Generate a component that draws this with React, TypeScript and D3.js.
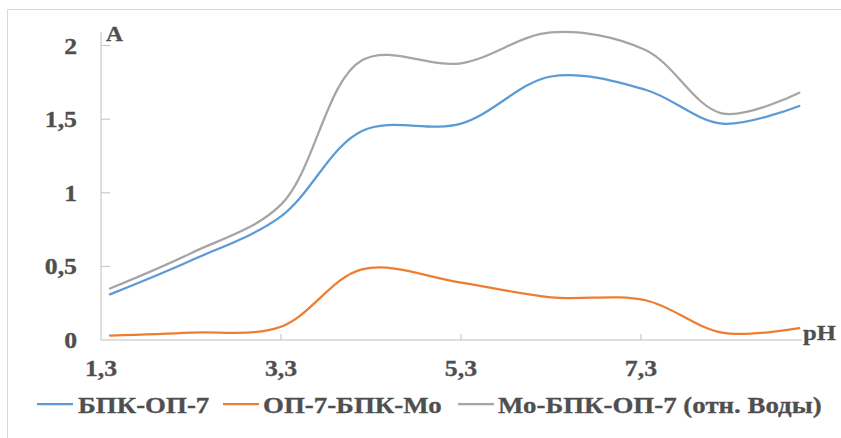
import React from "react";
import * as d3 from "d3";

const phValues = [1.4, 2.3, 3.3, 4.2, 5.3, 6.3, 7.35, 8.2, 9.06];
const seriesNames = ["БПК-ОП-7", "ОП-7-БПК-Мо", "Мо-БПК-ОП-7 (отн. Воды)"];
const bpkOp7 = [0.31, 0.54, 0.84, 1.42, 1.47, 1.79, 1.7, 1.47, 1.59];
const op7BpkMo = [0.03, 0.05, 0.09, 0.48, 0.39, 0.29, 0.27, 0.05, 0.08];
const moBpkOp7 = [0.35, 0.59, 0.92, 1.9, 1.88, 2.09, 1.97, 1.54, 1.68];
const seriesColors = ["#5b9bd5", "#ed7d31", "#a5a5a5"];
const xTicks = [1.3, 3.3, 5.3, 7.3];
const yTicks = [0, 0.5, 1, 1.5, 2];

const W = 841;
const H = 438;
const SX = 1.12;
const textColor = "#4f4f4f";
const font = "'Liberation Serif', 'Times New Roman', serif";

function SText({ x, y, anchor = "start", size = 22, children }: any) {
  return (
    <text
      transform={`translate(${x},${y}) scale(${SX},1)`}
      textAnchor={anchor}
      fontFamily={font}
      fontWeight="bold"
      fontSize={size}
      fill={textColor}
      stroke={textColor}
      strokeWidth={0.3}
    >
      {children}
    </text>
  );
}

const fmt = (v: number) => String(v).replace(".", ",");

export default function App() {
  const x = d3.scaleLinear().domain([1.3, 9.09]).range([101, 802]);
  const y = d3.scaleLinear().domain([0, 2]).range([340, 45.6]);
  const allSeries = [bpkOp7, op7BpkMo, moBpkOp7];
  const line = d3
    .line<number>()
    .x((_, i) => x(phValues[i]))
    .y((d) => y(d))
    .curve(d3.curveCatmullRom.alpha(0.5));

  const legendItems = [
    { lx: 37, tx: 78 },
    { lx: 223, tx: 263 },
    { lx: 458, tx: 498 },
  ];

  return (
    <svg
      width={W}
      height={H}
      style={{ position: "absolute", left: 0, top: 0, background: "#fff" }}
    >
      <rect x={0} y={0} width={W} height={H} fill="#fff" />
      <line x1={7.5} y1={9.5} x2={W} y2={9.5} stroke="#d9d9d9" strokeWidth={1} />
      <line x1={7.5} y1={9.5} x2={7.5} y2={H} stroke="#d9d9d9" strokeWidth={1} />

      <line x1={101} y1={32} x2={101} y2={340} stroke="#bfbfbf" strokeWidth={1} />
      <line x1={101} y1={340} x2={802} y2={340} stroke="#bfbfbf" strokeWidth={1} />
      {yTicks.map((t) => (
        <g key={"y" + t}>
          {t > 0 && (
            <line x1={101} x2={110} y1={y(t)} y2={y(t)} stroke="#bfbfbf" strokeWidth={1} />
          )}
          <SText x={77} y={y(t) + 8} anchor="end" size={23}>
            {fmt(t)}
          </SText>
        </g>
      ))}
      {xTicks.map((t) => (
        <g key={"x" + t}>
          {t > 1.3 && (
            <line x1={x(t)} x2={x(t)} y1={334} y2={340} stroke="#bfbfbf" strokeWidth={1} />
          )}
          <SText x={x(t)} y={376} anchor="middle" size={23}>
            {fmt(t)}
          </SText>
        </g>
      ))}
      <SText x={106} y={41} size={21}>
        A
      </SText>
      <SText x={803} y={340} size={22}>
        pH
      </SText>

      {allSeries.map((s, i) => (
        <path
          key={i}
          d={line(s) || ""}
          fill="none"
          stroke={seriesColors[i]}
          strokeWidth={2.25}
          strokeLinecap="round"
        />
      ))}

      {legendItems.map((it, i) => (
        <g key={"l" + i}>
          <line
            x1={it.lx}
            x2={it.lx + 36}
            y1={404}
            y2={404}
            stroke={seriesColors[i]}
            strokeWidth={2.25}
          />
          <SText x={it.tx} y={413} size={24}>
            {seriesNames[i]}
          </SText>
        </g>
      ))}
    </svg>
  );
}
